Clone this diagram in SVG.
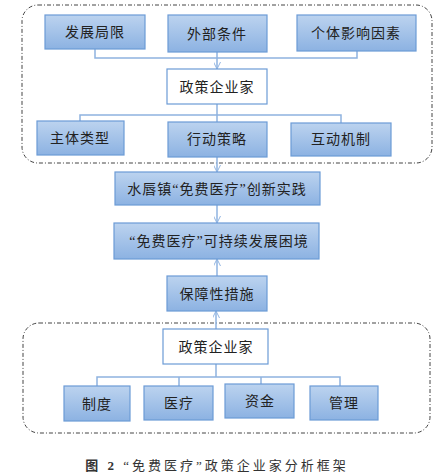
<svg xmlns="http://www.w3.org/2000/svg" width="439" height="474" viewBox="0 0 439 474">
<defs>
<linearGradient id="bg" x1="0" y1="0" x2="0" y2="1">
<stop offset="0" stop-color="#bcd3ef"/>
<stop offset="1" stop-color="#8cb2e2"/>
</linearGradient>
<marker id="arr" viewBox="0 0 10 10" refX="10" refY="5" markerWidth="7" markerHeight="7" orient="auto-start-reverse" markerUnits="userSpaceOnUse">
<path d="M0,0 L10,5 L0,10" fill="none" stroke="#8fb3e0" stroke-width="1.4"/>
</marker>
</defs>
<style>
.box{fill:url(#bg);stroke:#6c9bd6;stroke-width:1.2}
.wbox{fill:#fff;stroke:#6c9bd6;stroke-width:1.2}
.t{font-family:"Liberation Serif","Noto Sans CJK SC",serif;font-size:14px;fill:#222;text-anchor:middle;dominant-baseline:central;letter-spacing:1px}
.cont{fill:none;stroke:#444;stroke-width:1;stroke-dasharray:4 2 1 2}
.ln{fill:none;stroke:#8fb3e0;stroke-width:1.5}
</style>
<rect x="0" y="0" width="439" height="474" fill="#fff"/>
<g id="containers">
<rect class="cont" x="22" y="5" width="410" height="158" rx="16"/>
<rect class="cont" x="23" y="323" width="407" height="110" rx="16"/>
</g>
<g id="connectors">
<path class="ln" d="M95,49 V58 H357 V51"/>
<path class="ln" d="M217,52 V69" marker-end="url(#arr)"/>
<path class="ln" d="M217,104 V115 M80,121 V115 H341 V123 M217,115 V122"/>
<path class="ln" d="M217,157 V172" marker-end="url(#arr)"/>
<path class="ln" d="M217,205 V223" marker-end="url(#arr)"/>
<path class="ln" d="M217,276 V259" marker-end="url(#arr)"/>
<path class="ln" d="M216,329 V311" marker-end="url(#arr)"/>
<path class="ln" d="M216,364 V377 M97,386 V377 H340 V386 M179,377 V386 M261,377 V384"/>
</g>
<g id="n1"><rect class="box" x="45" y="15" width="100" height="34"/><text class="t" x="95" y="32">发展局限</text></g>
<g id="n2"><rect class="box" x="168" y="15" width="99" height="37"/><text class="t" x="217" y="34">外部条件</text></g>
<g id="n3"><rect class="box" x="297" y="15" width="119" height="36"/><text class="t" x="356" y="33">个体影响因素</text></g>
<g id="n4"><rect class="wbox" x="167" y="69" width="100" height="35"/><text class="t" x="217" y="87">政策企业家</text></g>
<g id="n5"><rect class="box" x="37" y="121" width="87" height="34"/><text class="t" x="80" y="138">主体类型</text></g>
<g id="n6"><rect class="box" x="168" y="122" width="99" height="35"/><text class="t" x="217" y="139">行动策略</text></g>
<g id="n7"><rect class="box" x="291" y="123" width="100" height="33"/><text class="t" x="341" y="139">互动机制</text></g>
<g id="n8"><rect class="box" x="115" y="172" width="205" height="33"/><text class="t" x="217" y="189">水唇镇“免费医疗”创新实践</text></g>
<g id="n9"><rect class="box" x="114" y="223" width="205" height="36"/><text class="t" x="219" y="241">“免费医疗”可持续发展困境</text></g>
<g id="n10"><rect class="box" x="167" y="276" width="100" height="35"/><text class="t" x="217" y="294">保障性措施</text></g>
<g id="n11"><rect class="wbox" x="163" y="329" width="105" height="35"/><text class="t" x="216" y="347">政策企业家</text></g>
<g id="n12"><rect class="box" x="64" y="386" width="66" height="35"/><text class="t" x="97" y="404">制度</text></g>
<g id="n13"><rect class="box" x="144" y="386" width="69" height="34"/><text class="t" x="179" y="403">医疗</text></g>
<g id="n14"><rect class="box" x="225" y="384" width="69" height="34"/><text class="t" x="260" y="401">资金</text></g>
<g id="n15"><rect class="box" x="310" y="386" width="68" height="34"/><text class="t" x="344" y="403">管理</text></g>
<text x="217" y="465" font-family="'Liberation Serif','Noto Sans CJK SC',serif" font-size="13" fill="#333" text-anchor="middle" dominant-baseline="central" letter-spacing="3"><tspan font-weight="bold">图 2</tspan>  “免费医疗”政策企业家分析框架</text>
</svg>
